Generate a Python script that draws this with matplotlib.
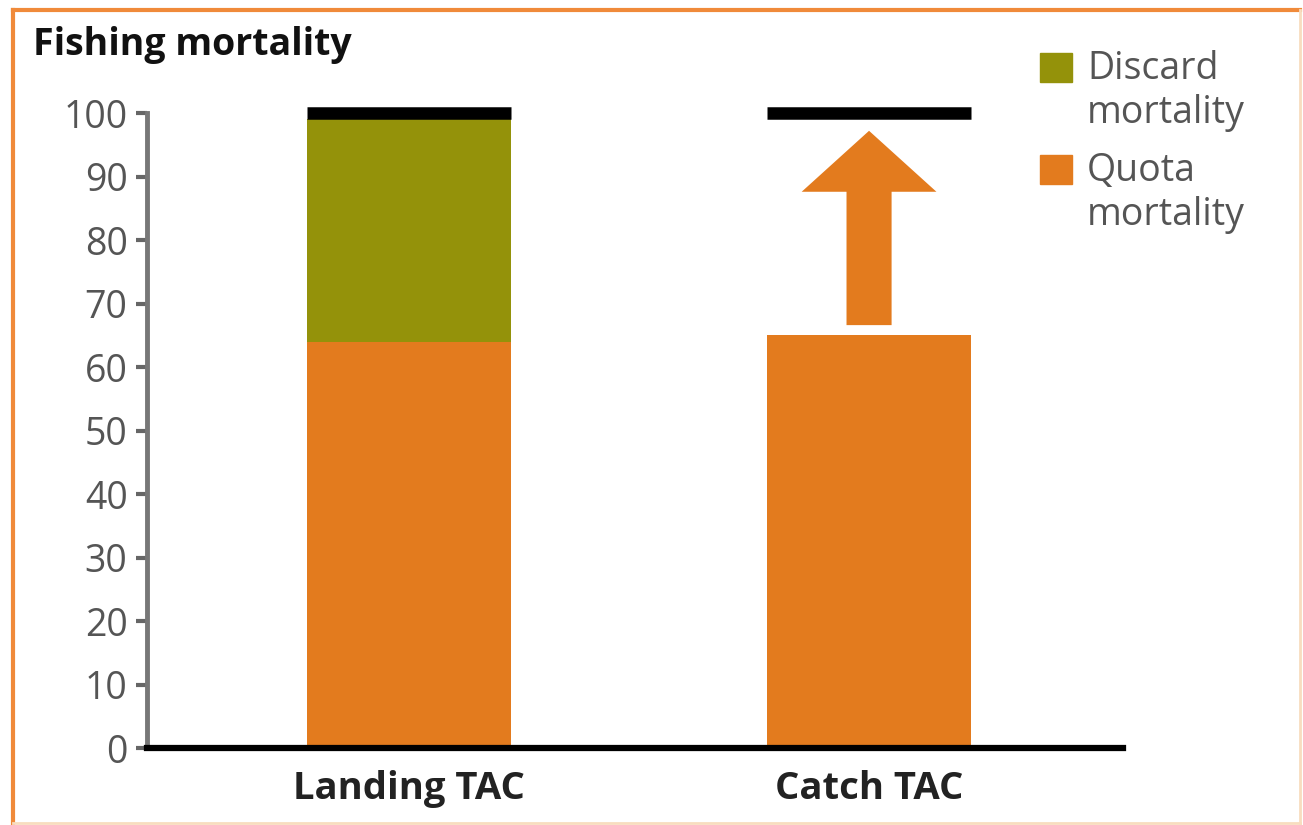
import matplotlib
matplotlib.use("Agg")
import matplotlib.pyplot as plt
import matplotlib.patches as mpatches

plt.rcParams['font.family'] = ['Open Sans', 'DejaVu Sans']

# data
categories = ["Landing TAC", "Catch TAC"]
quota = [64, 65]
discard = [35, 0]
tac_level = [100, 100]
series_names = ["Discard\nmortality", "Quota\nmortality"]

orange = "#E37B1E"
green = "#94920A"

fig = plt.figure(figsize=(13.03, 8.25), dpi=100)
ax = fig.add_axes([0.1128, 0.0933, 0.749, 0.7697])

x = [0, 1]
w = 0.443
ax.bar(x, quota, width=w, color=orange, zorder=2)
ax.bar(x, discard, width=w, bottom=quota, color=green, zorder=2)

# TAC level caps
for xi, lv in zip(x, tac_level):
    ax.plot([xi - w / 2, xi + w / 2], [lv, lv], color="black", lw=9,
            solid_capstyle="butt", clip_on=False, zorder=3)

# arrow from catch quota up to the TAC level
arr = mpatches.FancyArrow(x[1], quota[1] + 1.6, 0, tac_level[1] - 2.8 - (quota[1] + 1.6),
                          width=0.098, head_width=0.293, head_length=9.6,
                          length_includes_head=True, color=orange, lw=0, zorder=3)
ax.add_patch(arr)

ax.set_xlim(-0.57, 1.552)
ax.set_ylim(0, 100)
ax.set_yticks(range(0, 101, 10))
ax.set_xticks(x)
ax.set_xticklabels(categories, fontsize=27.5, fontweight="bold", color="#222222")
ax.tick_params(axis="x", length=0, pad=16)
ax.tick_params(axis="y", length=8, width=3, color="#666666", labelsize=27,
               labelcolor="#555555", pad=6)

for s in ["top", "right"]:
    ax.spines[s].set_visible(False)
ax.spines["left"].set_color("#777777")
ax.spines["left"].set_linewidth(3.5)
ax.spines["bottom"].set_color("black")
ax.spines["bottom"].set_linewidth(4.5)

fig.text(33 / 1303, 1 - 45 / 825, "Fishing mortality", fontsize=27,
         fontweight="bold", color="#111111", va="center", ha="left")

# legend
leg_colors = [green, orange]
leg_tops = [53, 155]
for c, t, name in zip(leg_colors, leg_tops, series_names):
    fig.patches.append(mpatches.Rectangle((1040 / 1303, 1 - (t + 29) / 825), 32 / 1303, 29 / 825,
                                          transform=fig.transFigure, color=c))
    fig.text(1087 / 1303, 1 - (t - 3) / 825, name, fontsize=27, color="#555555",
             va="top", ha="left", linespacing=1.2)

# frame
fig.add_artist(plt.Line2D([13 / 1303, 13 / 1303], [0.003, 1 - 10 / 825], color="#F08A3A",
                          lw=3, transform=fig.transFigure))
fig.add_artist(plt.Line2D([13 / 1303, 0.998], [1 - 10 / 825, 1 - 10 / 825], color="#F08A3A",
                          lw=3, transform=fig.transFigure))
fig.add_artist(plt.Line2D([13 / 1303, 0.998], [0.003, 0.003], color="#F8DDBF",
                          lw=2, transform=fig.transFigure))
fig.add_artist(plt.Line2D([0.998, 0.998], [0.003, 1 - 10 / 825], color="#F8DDBF",
                          lw=2, transform=fig.transFigure))

fig.savefig("out.png", dpi=100)
